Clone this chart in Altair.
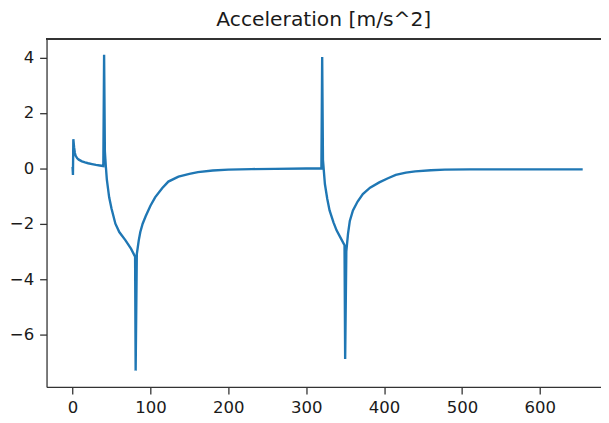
import altair as alt
import pandas as pd

# time [s] and acceleration [m/s^2]
t_vals = [0, 0.5, 1, 2, 3, 4, 6, 8, 12, 16, 20, 25, 30, 35, 39.5,
          40.5, 41.5, 42.7, 44, 47, 50, 55, 60, 68, 75, 80.3,
          81, 82.5, 85, 87, 90, 94, 100, 106, 115, 123, 136, 150, 161,
          180, 200, 230, 260, 300, 319.5,
          320.5, 321.5, 324, 327, 330, 335, 339, 344, 349.2,
          350, 351.5, 353.7, 356, 360, 366, 372.7, 382, 393.8, 405, 415,
          428, 440, 460, 478, 510, 542, 600, 655]
acc_vals = [0.05, -0.24, 1.05, 0.75, 0.55, 0.45, 0.36, 0.31, 0.25, 0.21, 0.18, 0.15, 0.12, 0.1, 0.08,
            4.09, 0.6, 0.08, -0.4, -1.05, -1.45, -2.0, -2.3, -2.6, -2.9, -3.19,
            -7.3, -3.1, -2.6, -2.3, -2.0, -1.72, -1.35, -1.05, -0.72, -0.48, -0.3, -0.2, -0.14,
            -0.08, -0.05, -0.03, -0.02, -0.01, 0.0,
            4.01, 0.3, -0.57, -1.1, -1.52, -1.95, -2.24, -2.5, -2.78,
            -6.88, -3.0, -2.36, -1.9, -1.52, -1.2, -0.93, -0.7, -0.51, -0.36, -0.24,
            -0.16, -0.11, -0.07, -0.05, -0.04, -0.04, -0.04, -0.04]

x_ticks = [0, 100, 200, 300, 400, 500, 600]
y_ticks = [-6, -4, -2, 0, 2, 4]

df = pd.DataFrame({"t": t_vals, "a": acc_vals})

W, H = 561, 352

line = alt.Chart(df).mark_line(color="#1f77b4", strokeWidth=2.4, clip=True).encode(
    x=alt.X("t:Q", title=None,
            scale=alt.Scale(domain=[-33.4, 678.5], nice=False, zero=False),
            axis=alt.Axis(values=x_ticks, grid=False, format="d")),
    y=alt.Y("a:Q", title=None,
            scale=alt.Scale(domain=[-7.89, 4.66], nice=False, zero=False),
            axis=alt.Axis(values=y_ticks, grid=False, format="d")),
)

top_border = alt.Chart(df).mark_rule(color="#333333", strokeWidth=1.3).encode(
    x=alt.value(0), x2=alt.value(W), y=alt.value(0)
)

chart = alt.layer(line, top_border).properties(
    width=W, height=H,
    title=alt.TitleParams("Acceleration [m/s^2]", fontSize=20.5, font="DejaVu Sans",
                          fontWeight="normal", color="#1a1a1a", offset=8),
    autosize=alt.AutoSizeParams(type="none"),
    padding={"left": 39, "top": 29, "right": 0, "bottom": 34},
).configure_view(stroke=None).configure_axis(
    domainColor="#333333", domainWidth=1.3, tickColor="#333333", tickWidth=1.3,
    tickSize=7, labelFont="DejaVu Sans", labelFontSize=16.7, labelColor="#1a1a1a",
    labelPadding=6,
)

chart.save("out.html", embed_options={"renderer": "svg", "actions": False})
